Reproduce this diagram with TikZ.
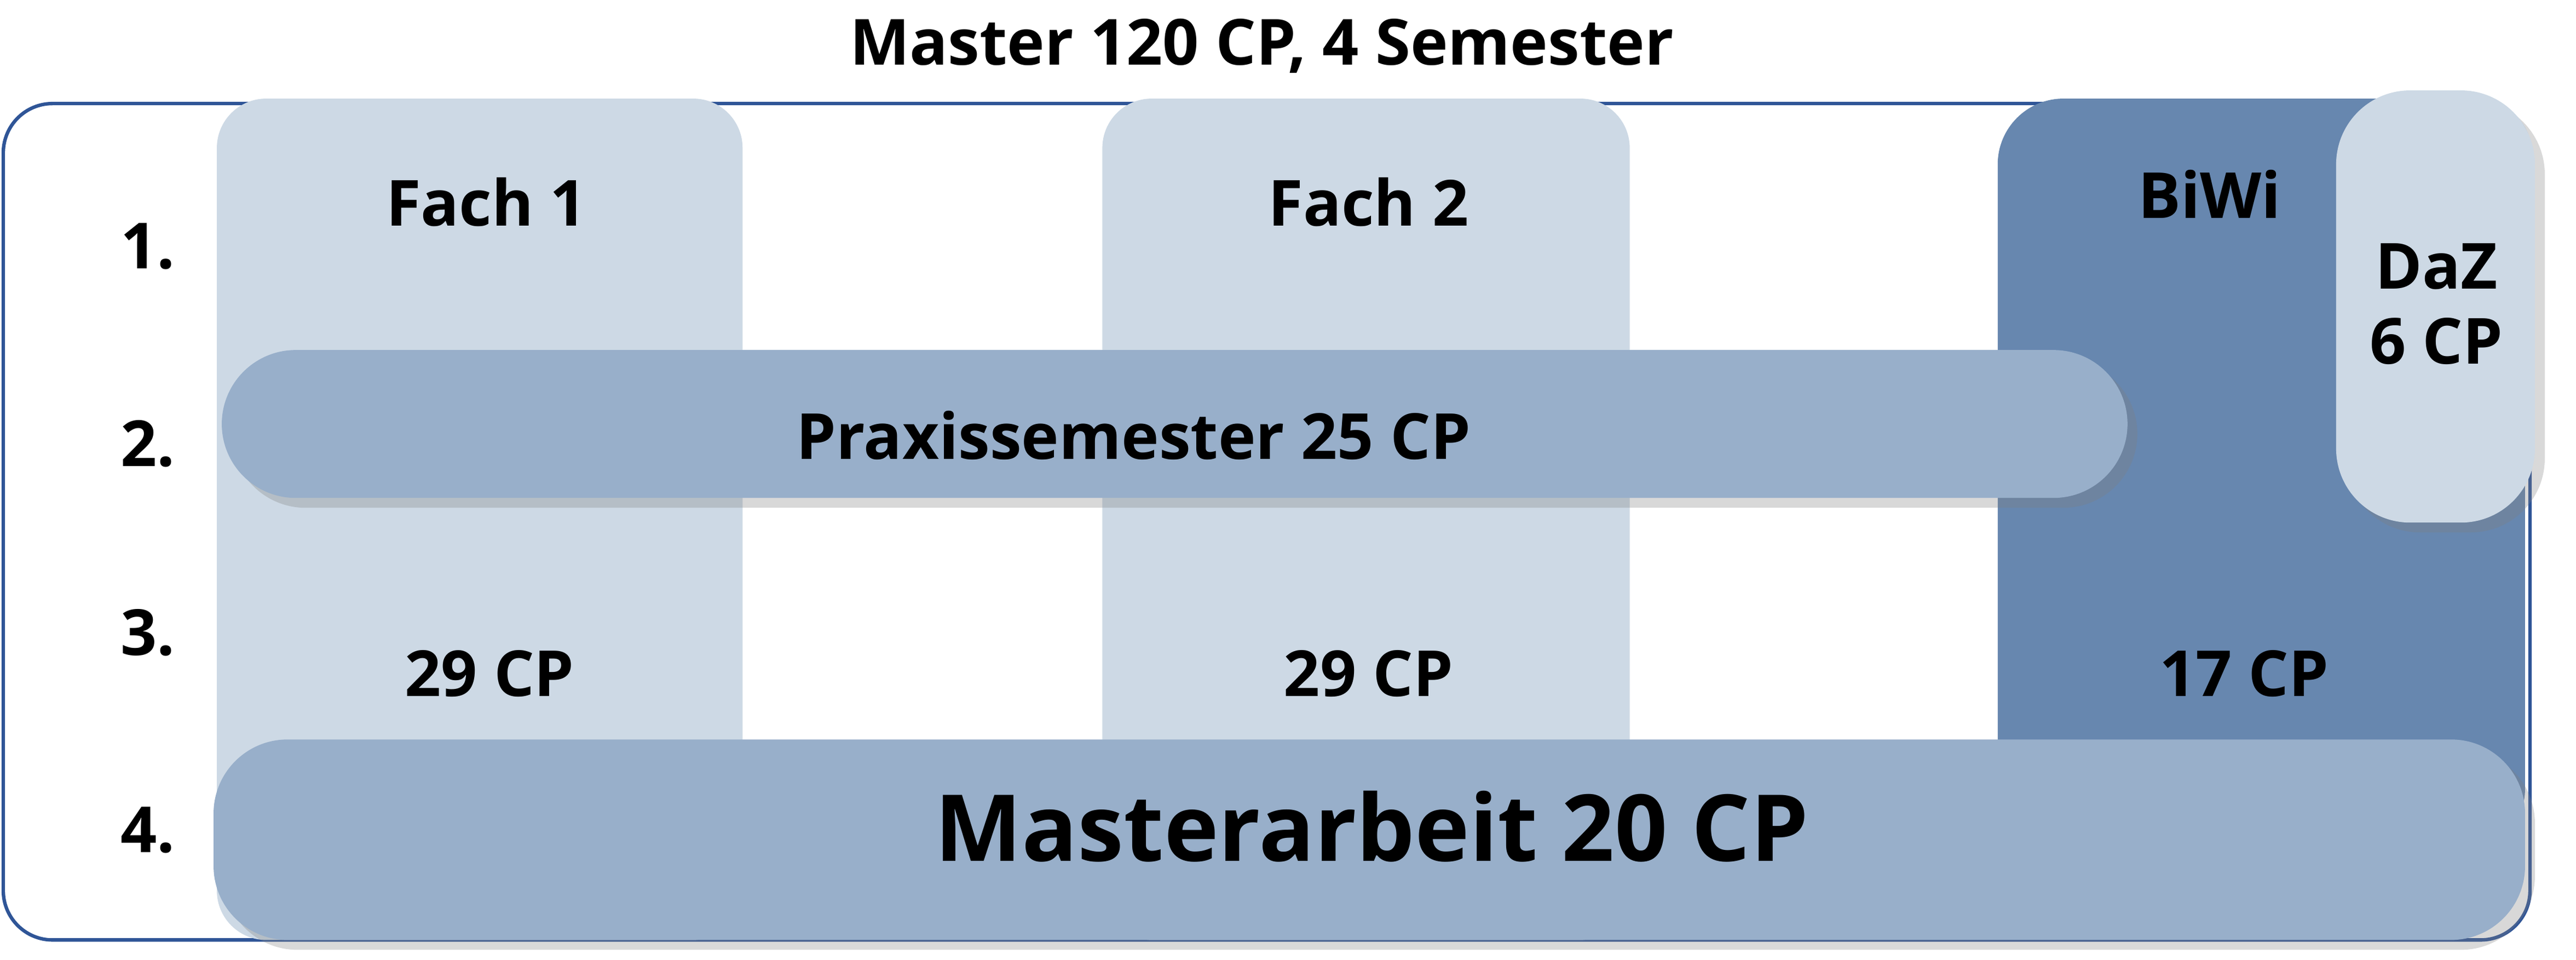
\documentclass[tikz,border=0pt]{standalone}
\usepackage{fontspec}
\setmainfont{Open Sans}
\usetikzlibrary{shadows}
\definecolor{light}{HTML}{CDD9E5}
\definecolor{mid}{HTML}{98AFCA}
\definecolor{dark}{HTML}{6787AF}
\definecolor{frame}{HTML}{2F5597}
\tikzset{
  lbl/.style={font=\fontsize{11}{13}\selectfont\bfseries, inner sep=0pt},
  bar/.style={fill=mid, rounded corners=4.5mm, drop shadow={opacity=0.3, shadow xshift=0.6mm, shadow yshift=-0.6mm}}
}
\begin{document}
\begin{tikzpicture}[x=0.01cm,y=-0.01cm]
\useasboundingbox (0,0) rectangle (1568,584);
\draw[frame, line width=0.6pt, rounded corners=3mm, fill=white] (2,63) rectangle (1540,572);
\node[lbl] (title) at (768,28) {Master 120 CP, 4 Semester};
\fill[light, rounded corners=3mm] (132,60) rectangle (452,572);
\fill[light, rounded corners=3mm] (671,60) rectangle (992,572);
\fill[dark, rounded corners=4mm] (1216,60) rectangle (1537,520);
\node[lbl] (f1) at (296,123) {Fach 1};
\node[lbl] (f2) at (833,123) {Fach 2};
\node[lbl] (biwi) at (1345,118) {BiWi};
\node[lbl] (c1) at (298,410) {29 CP};
\node[lbl] (c2) at (833,410) {29 CP};
\node[lbl] (c3) at (1366,410) {17 CP};
\fill[light, rounded corners=4.5mm, drop shadow={opacity=0.3, shadow xshift=0.6mm, shadow yshift=-0.6mm}] (1422,55) rectangle (1543,318);
\node[lbl, align=center] (daz) at (1483,185) {DaZ\\6 CP};
\path[bar] (135,213) rectangle (1295,303);
\node[lbl] (prax) at (690,265) {Praxissemester 25 CP};
\path[bar] (130,450) rectangle (1537,572);
\node[font=\fontsize{16}{19}\selectfont\bfseries, inner sep=0pt] (ma) at (835,503) {Masterarbeit 20 CP};
\node[lbl] (r1) at (90,150) {1.};
\node[lbl] (r2) at (90,270) {2.};
\node[lbl] (r3) at (90,385) {3.};
\node[lbl] (r4) at (90,505) {4.};
\end{tikzpicture}
\end{document}
